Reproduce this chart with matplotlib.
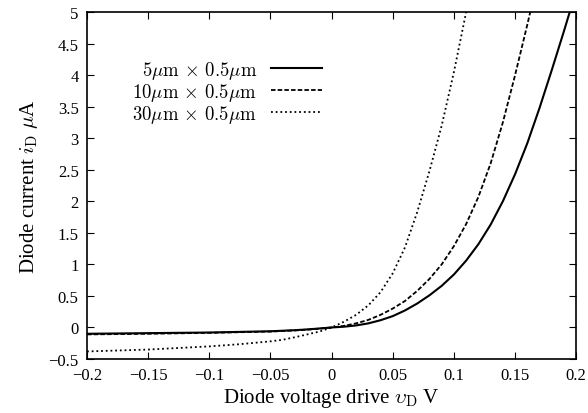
import matplotlib
matplotlib.use("Agg")
import matplotlib.pyplot as plt

plt.rcParams['font.family'] = ['Liberation Serif', 'DejaVu Serif']
plt.rcParams['mathtext.fontset'] = 'cm'

# diode drive voltage (V) and current (uA)
v_5 = [-0.2, -0.15, -0.1, -0.05, -0.03, -0.02, -0.01, 0, 0.01, 0.02, 0.03,
       0.04, 0.05, 0.06, 0.07, 0.08, 0.09, 0.10, 0.11, 0.12, 0.13, 0.14, 0.15,
       0.16, 0.17, 0.18, 0.19, 0.195]
i_5 = [-0.10, -0.09, -0.08, -0.06, -0.043, -0.031, -0.016, 0, 0.012, 0.032,
       0.065, 0.115, 0.18, 0.27, 0.38, 0.51, 0.66, 0.84, 1.06, 1.32, 1.63,
       2.00, 2.43, 2.92, 3.48, 4.08, 4.70, 5.02]

v_10 = [-0.2, -0.15, -0.1, -0.05, -0.03, -0.02, -0.01, 0, 0.01, 0.02, 0.03,
        0.04, 0.05, 0.06, 0.07, 0.08, 0.09, 0.10, 0.11, 0.12, 0.13, 0.14, 0.15,
        0.16, 0.1624]
i_10 = [-0.11, -0.10, -0.085, -0.065, -0.047, -0.035, -0.019, 0, 0.025, 0.065,
        0.12, 0.20, 0.30, 0.42, 0.58, 0.77, 1.00, 1.29, 1.64, 2.07, 2.60, 3.25,
        4.00, 4.80, 5.0]

v_30 = [-0.2, -0.175, -0.15, -0.125, -0.1, -0.075, -0.05, -0.04, -0.03, -0.02,
        -0.01, 0, 0.01, 0.02, 0.03, 0.04, 0.05, 0.06, 0.07, 0.08, 0.09, 0.10,
        0.11]
i_30 = [-0.38, -0.365, -0.35, -0.325, -0.30, -0.265, -0.22, -0.195, -0.155,
        -0.11, -0.065, 0, 0.09, 0.20, 0.35, 0.56, 0.86, 1.27, 1.83, 2.48, 3.20,
        4.05, 5.0]

labels = [r'$5\mu{\rm m}\,\times\,0.5\mu{\rm m}$',
          r'$10\mu{\rm m}\,\times\,0.5\mu{\rm m}$',
          r'$30\mu{\rm m}\,\times\,0.5\mu{\rm m}$']

x_ticks = [-0.2, -0.15, -0.1, -0.05, 0, 0.05, 0.1, 0.15, 0.2]
x_tick_labels = ['\u22120.2', '\u22120.15', '\u22120.1', '\u22120.05', '0',
                 '0.05', '0.1', '0.15', '0.2']
y_ticks = [-0.5, 0, 0.5, 1, 1.5, 2, 2.5, 3, 3.5, 4, 4.5, 5]
y_tick_labels = ['\u22120.5', '0', '0.5', '1', '1.5', '2', '2.5', '3', '3.5',
                 '4', '4.5', '5']

fig = plt.figure(figsize=(5.88, 4.14), dpi=100)
ax = fig.add_axes([0.148, 0.1304, 0.832, 0.8382])

ax.plot(v_5, i_5, color='black', lw=1.5, ls='-', label=labels[0])
ax.plot(v_10, i_10, color='black', lw=1.3, ls=(0, (2.5, 1.2)), label=labels[1])
ax.plot(v_30, i_30, color='black', lw=1.3, ls=(0, (1, 1.6)), label=labels[2])

ax.set_xlim(-0.2, 0.2)
ax.set_ylim(-0.5, 5)
ax.set_xticks(x_ticks)
ax.set_xticklabels(x_tick_labels)
ax.set_yticks(y_ticks)
ax.set_yticklabels(y_tick_labels)
ax.tick_params(direction='in', top=True, right=True, length=5, width=0.8,
               labelsize=12, pad=6)
for sp in ax.spines.values():
    sp.set_linewidth(1.2)

ax.set_xlabel(r'Diode voltage drive $\upsilon_{\rm D}$ V', fontsize=15, labelpad=2)
ax.set_ylabel(r'Diode current $i_{\rm D}$ $\mu$A', fontsize=15, labelpad=6)

ax.legend(loc='upper right', bbox_to_anchor=(0.48, 0.865), frameon=False,
          markerfirst=False, fontsize=13.5, handlelength=2.7, handletextpad=0.75,
          labelspacing=0.0, borderpad=0, borderaxespad=0)

fig.savefig('out.png', dpi=100)
